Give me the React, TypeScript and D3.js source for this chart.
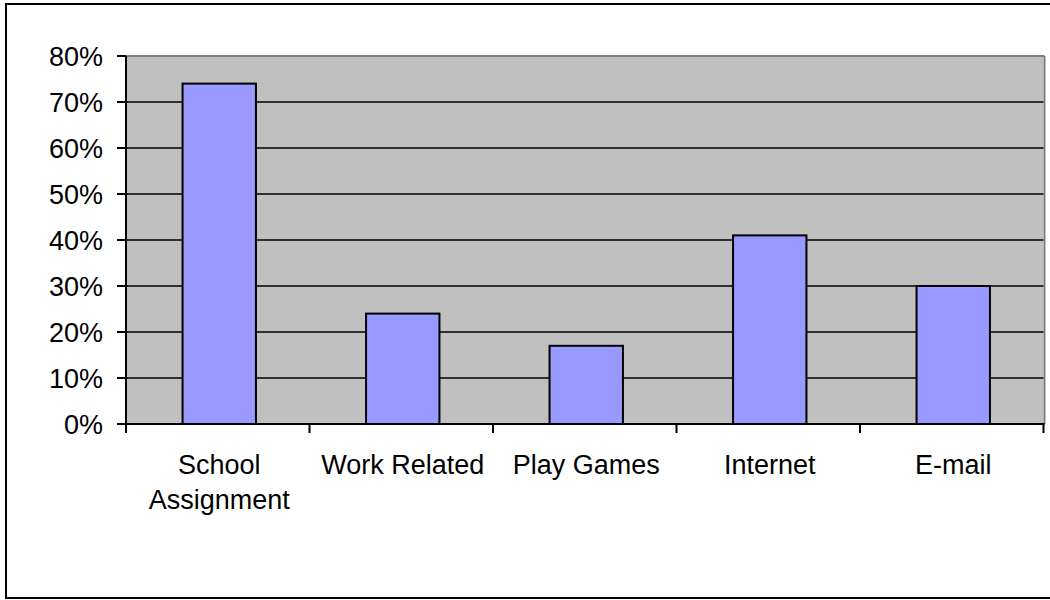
import React from "react";
import * as d3 from "d3";

const categories = ["School Assignment", "Work Related", "Play Games", "Internet", "E-mail"];
const categoryLines = [["School", "Assignment"], ["Work Related"], ["Play Games"], ["Internet"], ["E-mail"]];
const values = [0.74, 0.24, 0.17, 0.41, 0.30];
const yTicks = [0, 0.1, 0.2, 0.3, 0.4, 0.5, 0.6, 0.7, 0.8];

const W = 1050;
const H = 600;
const left = 126;
const right = 1043.5;
const top = 56;
const bottom = 424;
const FONT = "'Liberation Sans', Arial, sans-serif";

export default function App() {
  const x = d3.scaleBand<string>().domain(categories).range([left, right]).padding(0);
  const y = d3.scaleLinear().domain([0, 0.8]).range([bottom, top]);
  const fmt = d3.format(".0%");
  const bw = x.bandwidth() * 0.4;
  const boundaries = categories.map((c) => x(c)!).concat([right]);

  return (
    <svg
      width={W}
      height={H}
      style={{ position: "absolute", left: 0, top: 0, background: "#fff" }}
      fontFamily={FONT}
    >
      <rect x={6} y={4} width={1060} height={594} fill="#fff" stroke="#000" strokeWidth={2} />
      <rect x={left} y={top} width={right - left} height={bottom - top} fill="#C0C0C0" />
      <line x1={left} x2={right + 1} y1={top} y2={top} stroke="#808080" strokeWidth={2} />
      <line x1={right + 1} x2={right + 1} y1={top} y2={bottom} stroke="#808080" strokeWidth={2} />
      {yTicks.slice(1, -1).map((t) => (
        <line key={t} x1={left} x2={right} y1={y(t)} y2={y(t)} stroke="#000" strokeWidth={1.5} />
      ))}
      {categories.map((c, i) => {
        const cx = x(c)! + x.bandwidth() / 2 + 1.5;
        return (
          <rect
            key={c}
            x={cx - bw / 2}
            y={y(values[i])}
            width={bw}
            height={bottom - y(values[i])}
            fill="#9999FF"
            stroke="#000"
            strokeWidth={2}
          />
        );
      })}
      <line x1={left} x2={left} y1={top} y2={bottom + 1} stroke="#000" strokeWidth={2} />
      <line x1={left - 1} x2={right + 1} y1={bottom} y2={bottom} stroke="#000" strokeWidth={2} />
      {yTicks.map((t) => (
        <g key={t}>
          <line x1={left - 9} x2={left} y1={y(t)} y2={y(t)} stroke="#000" strokeWidth={2} />
          <text x={left - 23} y={y(t)} dy="0.36em" textAnchor="end" fontSize={27} fill="#000">
            {fmt(t)}
          </text>
        </g>
      ))}
      {boundaries.map((b, i) => (
        <line key={i} x1={b} x2={b} y1={bottom} y2={bottom + 9} stroke="#000" strokeWidth={2} />
      ))}
      {categories.map((c, i) => (
        <text key={c} x={x(c)! + x.bandwidth() / 2 + 1.5} y={474} textAnchor="middle" fontSize={27} fill="#000">
          {categoryLines[i].map((ln, j) => (
            <tspan key={j} x={x(c)! + x.bandwidth() / 2 + 1.5} dy={j === 0 ? 0 : 35}>
              {ln}
            </tspan>
          ))}
        </text>
      ))}
    </svg>
  );
}
